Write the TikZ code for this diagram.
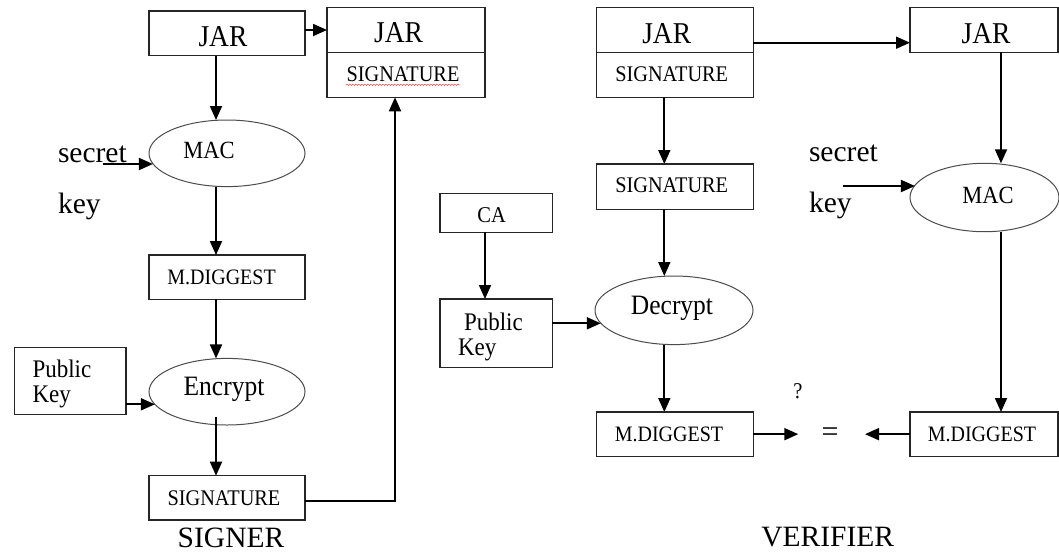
\documentclass[tikz,border=0pt]{standalone}
\usepackage{graphicx}
\usepackage{fontspec}
\setmainfont{Liberation Serif}
\usetikzlibrary{arrows.meta,shapes.geometric,decorations.pathmorphing}
\newcommand\myfs[1]{\fontsize{#1}{#1}\selectfont}
\newcommand\tallt[1]{\scalebox{1}[1.1]{#1}}
\begin{document}
\begin{tikzpicture}[x=1pt,y=-1pt,
  box/.style={draw=black!85,line width=1.4pt,inner sep=0pt,outer sep=0pt,rectangle},
  oval/.style={draw=black!70,line width=1pt,ellipse,inner sep=0pt,outer sep=0pt},
  arr/.style={draw=black,line width=1.8pt,-{Triangle[length=14pt,width=12pt]}},
  txt/.style={inner sep=0pt,outer sep=0pt,text=black}
]
\fill[white] (0,0) rectangle (1059,552);
\useasboundingbox (0,0) rectangle (1059,552);

% columns
\coordinate (c1) at (216,0);
\coordinate (c2) at (395,0);
\coordinate (c3) at (664.3,0);
\coordinate (c4) at (485,0);
\coordinate (c5) at (1001,0);

% ---------------- SIGNER ----------------
\node[box,minimum width=156,minimum height=44.7] (jarA) at (227,33.35) {};
\node[box,minimum width=158,minimum height=45] (jarB) at (406,29.8) {};
\node[box,minimum width=158,minimum height=45] (sigB) at (406,74.8) {};
\node[oval,minimum width=156,minimum height=66.6] (mac) at (227,153.3) {};
\node[box,minimum width=156,minimum height=44.3] (mdA) at (227,277.2) {};
\node[oval,minimum width=156,minimum height=66.6] (enc) at (227,391.7) {};
\node[box,minimum width=111.5,minimum height=67] (pkA) at (70.25,380.8) {};
\node[box,minimum width=156,minimum height=44.3] (sigA) at (227,497.85) {};

\node[txt,font=\myfs{27.5}] (tjarA) at (223,37) {\tallt{JAR}};
\node[txt,font=\myfs{27.5}] (tjarB) at (398.5,32.5) {\tallt{JAR}};
\node[txt,font=\myfs{20.3}] (tsigB) at (403,74.5) {\tallt{SIGNATURE}};
\draw[red!75,line width=0.5pt,decorate,decoration={snake,amplitude=0.7pt,segment length=3pt}] (346,84.8) -- (460,84.8);
\node[txt,font=\myfs{22.5}] (tmac) at (209,150) {\tallt{MAC}};
\node[txt,font=\myfs{29.5},anchor=base west] (tsecA) at (58,162) {secret};
\node[txt,font=\myfs{29.5},anchor=base west] (tkeyA) at (58,213) {key};
\node[txt,font=\myfs{20}] (tmdA) at (221.6,277.5) {\tallt{M.DIGGEST}};
\node[txt,font=\myfs{25.5}] (tenc) at (224,389.5) {\tallt{Encrypt}};
\node[txt,font=\myfs{23},anchor=base west] (tpubA) at (32.5,377.3) {\tallt{Public}};
\node[txt,font=\myfs{23},anchor=base west] (tkyA) at (32.5,402.3) {\tallt{Key}};
\node[txt,font=\myfs{20.3}] (tsigA) at (224,498.5) {\tallt{SIGNATURE}};
\node[txt,font=\myfs{29.5}] (tsigner) at (231,537.5) {SIGNER};

\coordinate (a1) at (305,30);
\draw[arr] (a1) -- (a1 -| jarB.west);
\draw[arr] (jarA.south -| c1) -- (mac.north -| c1);
\coordinate (sk) at (103,164);
\draw[arr] (sk) -- (sk -| mac.188);
\draw[arr] (mac.south -| c1) -- (mdA.north -| c1);
\draw[arr] (mdA.south -| c1) -- (enc.north -| c1);
\coordinate (pa) at (126,404.3);
\draw[arr] (pa) -- (pa -| enc.190);
\coordinate (encx) at ([yshift=-25pt]enc.center);
\draw[arr] (encx -| c1) -- (sigA.north -| c1);
\coordinate (sa) at (305,501);
\draw[arr] (sa) -- (sa -| c2) -- (sigB.south -| c2);

% ---------------- VERIFIER ----------------
\node[box,minimum width=156.6,minimum height=45] (vjar) at (675,29.8) {};
\node[box,minimum width=156.6,minimum height=45] (vsig) at (675,74.8) {};
\node[box,minimum width=148,minimum height=45] (rjar) at (984,29.8) {};
\node[box,minimum width=156.6,minimum height=45.3] (vsig2) at (675,186.65) {};
\node[box,minimum width=112.3,minimum height=39] (ca) at (496.15,212.8) {};
\node[box,minimum width=112.3,minimum height=68.3] (pkB) at (496.15,333.15) {};
\node[oval,minimum width=158,minimum height=68.6] (dec) at (674,310.3) {};
\node[box,minimum width=156.6,minimum height=44.3] (vmd) at (675,434.15) {};
\node[oval,minimum width=149,minimum height=68.4] (rmac) at (984.5,197.5) {};
\node[box,minimum width=148,minimum height=44.3] (rmd) at (984,434.15) {};

\node[txt,font=\myfs{27.5}] (tvjar) at (666.7,33.3) {\tallt{JAR}};
\node[txt,font=\myfs{20.3}] (tvsig) at (671.7,73.8) {\tallt{SIGNATURE}};
\node[txt,font=\myfs{27.5}] (trjar) at (986,33.3) {\tallt{JAR}};
\node[txt,font=\myfs{20.3}] (tvsig2) at (671.7,185.5) {\tallt{SIGNATURE}};
\node[txt,font=\myfs{20.5}] (tca) at (491.7,215.5) {\tallt{CA}};
\node[txt,font=\myfs{23},anchor=base west] (tpubB) at (464,330) {\tallt{Public}};
\node[txt,font=\myfs{23},anchor=base west] (tkyB) at (458,355) {\tallt{Key}};
\node[txt,font=\myfs{25.5}] (tdec) at (672,308) {\tallt{Decrypt}};
\node[txt,font=\myfs{20}] (tvmd) at (669,434) {\tallt{M.DIGGEST}};
\node[txt,font=\myfs{20}] (trmd) at (982,434) {\tallt{M.DIGGEST}};
\node[txt,font=\myfs{22.5}] (trmac) at (988,195) {\tallt{MAC}};
\node[txt,font=\myfs{29.5},anchor=base west] (tsecB) at (809,161.7) {secret};
\node[txt,font=\myfs{29.5},anchor=base west] (tkeyB) at (809,212) {key};
\node[txt,font=\myfs{20.5}] (tq) at (798,391) {\tallt{?}};
\node[txt,font=\myfs{30}] (teq) at (830,435) {=};
\node[txt,font=\myfs{29.5}] (tverifier) at (827.7,537) {VERIFIER};

\coordinate (a2) at (753.3,42.7);
\draw[arr] (a2) -- (a2 -| rjar.west);
\draw[arr] (vsig.south -| c3) -- (vsig2.north -| c3);
\draw[arr] (vsig2.south -| c3) -- (dec.north -| c3);
\draw[arr] (ca.south -| c4) -- (pkB.north -| c4);
\coordinate (pb) at (552.3,323.3);
\draw[arr] (pb) -- (pb -| dec.190);
\draw[arr] (dec.south -| c3) -- (vmd.north -| c3);
\coordinate (e1) at (798.3,434.15);
\draw[arr] (vmd.east) -- (e1);
\coordinate (e2) at (865,434.15);
\draw[arr] (rmd.west) -- (e2);
\draw[arr] (rjar.south -| c5) -- (rmac.north -| c5);
\draw[arr] (rmac.south -| c5) -- (rmd.north -| c5);
\coordinate (sk2) at (843,186);
\draw[arr] (sk2) -- (sk2 -| rmac.170);
\end{tikzpicture}
\end{document}
